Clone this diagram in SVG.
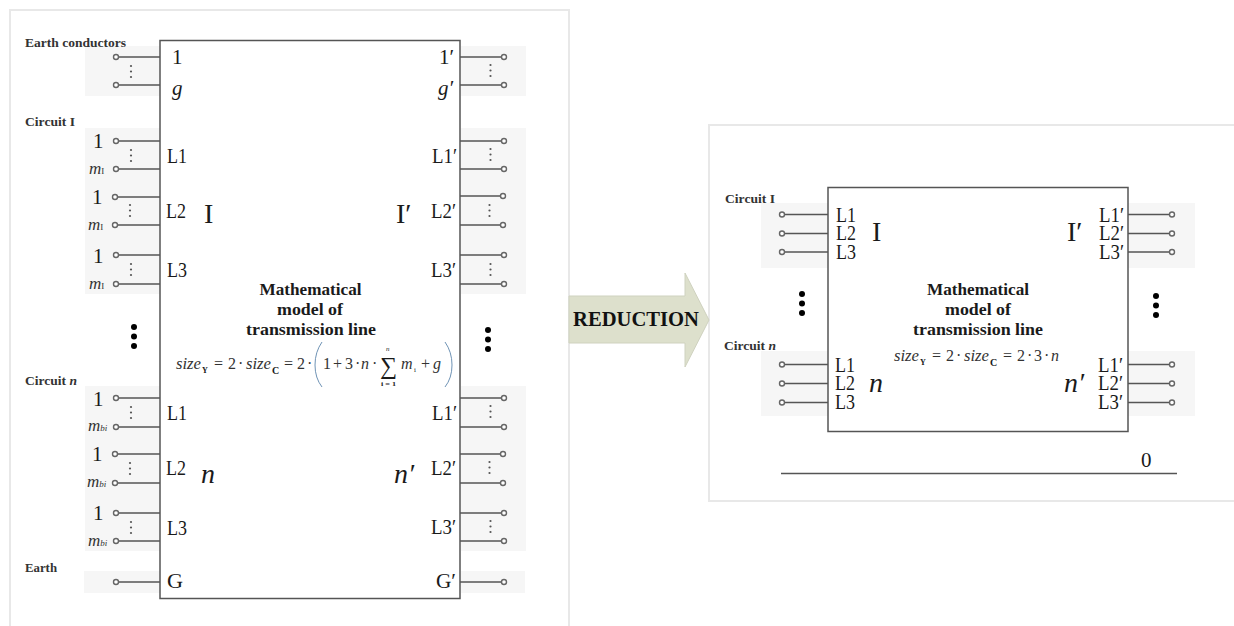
<svg xmlns="http://www.w3.org/2000/svg" width="1234" height="626" viewBox="0 0 1234 626">
<style>
text{font-family:"Liberation Serif","Times New Roman",serif;fill:#1a1a1a}
.h{font-size:13px;font-weight:bold;fill:#333}
.p{font-size:21px}
.s{font-size:21px;font-style:italic}
.m{font-size:17px;font-style:italic;fill:#333}
.t{font-size:16.500px;font-weight:bold}
.f{font-size:16px;fill:#333}
.i{font-style:italic}
.big{font-size:28px}
.band{fill:#f6f6f6;stroke:none}
.panel{fill:#fff;stroke:#e8e8e8;stroke-width:2}
.box{fill:#fff;stroke:#555;stroke-width:1.5}
.w{stroke:#555;stroke-width:1.5;fill:none}
.c{fill:#fff;stroke:#666;stroke-width:1.4}
.d{fill:#555}
.b{fill:#000}
</style>
<defs>
<g id="vd"><circle cx="0" cy="0" r="1.100" class="d"/><circle cx="0" cy="5.500" r="1.100" class="d"/><circle cx="0" cy="11" r="1.100" class="d"/></g>
<g id="bd"><circle cx="0" cy="0" r="3" class="b"/><circle cx="0" cy="9.500" r="3" class="b"/><circle cx="0" cy="19" r="3" class="b"/></g>
</defs>
<rect class="panel" x="10" y="10" width="559" height="630"/>
<rect class="panel" x="709" y="125" width="540" height="376"/>
<g id="bands">
<rect class="band" x="85" y="46" width="75" height="50"/>
<rect class="band" x="85" y="128" width="75" height="166"/>
<rect class="band" x="85" y="386" width="75" height="165"/>
<rect class="band" x="84" y="571" width="76" height="22"/>
<rect class="band" x="461" y="46" width="65" height="50"/>
<rect class="band" x="461" y="128" width="65" height="166"/>
<rect class="band" x="461" y="386" width="65" height="165"/>
<rect class="band" x="461" y="571" width="64" height="22"/>
<rect class="band" x="761" y="203" width="67" height="65"/>
<rect class="band" x="761" y="351" width="67" height="65"/>
<rect class="band" x="1128" y="203" width="67" height="65"/>
<rect class="band" x="1128" y="351" width="67" height="65"/>
</g>
<g id="connectors">
<path class="w" d="M116 57H160M116 85H160M116 141H160M116 169H160M115 197H160M115 225H160M116 255H160M116 284H160M116 398H160M116 427H160M115 454H160M115 483H160M116 513H160M116 541H160M116 582H160"/>
<path class="w" d="M460 57H504M460 85H504M460 141H504M460 169H504M460 196H503M460 225H503M460 255H504M460 284H504M460 398H504M460 427H504M460 454H503M460 483H503M460 513H504M460 541H504M460 582H504"/>
<path class="w" d="M782 214.500H828M782 233.500H828M782 252H828M782 364.500H828M782 383.500H828M782 402.500H828M1128 214.500H1172M1128 233.500H1172M1128 252H1172M1128 364.500H1172M1128 383.500H1172M1128 402.500H1172"/>
<path class="w" d="M781 473.500H1177"/>
<g id="terminals">
<circle class="c" cx="116" cy="57" r="2.500"/><circle class="c" cx="116" cy="85" r="2.500"/><circle class="c" cx="116" cy="141" r="2.500"/><circle class="c" cx="116" cy="169" r="2.500"/><circle class="c" cx="115" cy="197" r="2.500"/><circle class="c" cx="115" cy="225" r="2.500"/><circle class="c" cx="116" cy="255" r="2.500"/><circle class="c" cx="116" cy="284" r="2.500"/><circle class="c" cx="116" cy="398" r="2.500"/><circle class="c" cx="116" cy="427" r="2.500"/><circle class="c" cx="115" cy="454" r="2.500"/><circle class="c" cx="115" cy="483" r="2.500"/><circle class="c" cx="116" cy="513" r="2.500"/><circle class="c" cx="116" cy="541" r="2.500"/><circle class="c" cx="116" cy="582" r="2.500"/>
<circle class="c" cx="504" cy="57" r="2.500"/><circle class="c" cx="504" cy="85" r="2.500"/><circle class="c" cx="504" cy="141" r="2.500"/><circle class="c" cx="504" cy="169" r="2.500"/><circle class="c" cx="503" cy="196" r="2.500"/><circle class="c" cx="503" cy="225" r="2.500"/><circle class="c" cx="504" cy="255" r="2.500"/><circle class="c" cx="504" cy="284" r="2.500"/><circle class="c" cx="504" cy="398" r="2.500"/><circle class="c" cx="504" cy="427" r="2.500"/><circle class="c" cx="503" cy="454" r="2.500"/><circle class="c" cx="503" cy="483" r="2.500"/><circle class="c" cx="504" cy="513" r="2.500"/><circle class="c" cx="504" cy="541" r="2.500"/><circle class="c" cx="504" cy="582" r="2.500"/>
<circle class="c" cx="782" cy="214.500" r="2.500"/><circle class="c" cx="782" cy="233.500" r="2.500"/><circle class="c" cx="782" cy="252" r="2.500"/><circle class="c" cx="782" cy="364.500" r="2.500"/><circle class="c" cx="782" cy="383.500" r="2.500"/><circle class="c" cx="782" cy="402.500" r="2.500"/>
<circle class="c" cx="1172" cy="214.500" r="2.500"/><circle class="c" cx="1172" cy="233.500" r="2.500"/><circle class="c" cx="1172" cy="252" r="2.500"/><circle class="c" cx="1172" cy="364.500" r="2.500"/><circle class="c" cx="1172" cy="383.500" r="2.500"/><circle class="c" cx="1172" cy="402.500" r="2.500"/>
</g>
</g>
<g id="dots">
<use href="#vd" x="131" y="66"/><use href="#vd" x="131" y="150"/><use href="#vd" x="130" y="205"/><use href="#vd" x="131" y="264"/><use href="#vd" x="131" y="407"/><use href="#vd" x="130" y="463"/><use href="#vd" x="131" y="522"/>
<use href="#vd" x="490.500" y="65"/><use href="#vd" x="490.500" y="149"/><use href="#vd" x="489.500" y="205"/><use href="#vd" x="490.500" y="264"/><use href="#vd" x="490.500" y="406"/><use href="#vd" x="489.500" y="462"/><use href="#vd" x="490.500" y="521"/>
<use href="#bd" x="134" y="327"/><use href="#bd" x="488" y="330"/><use href="#bd" x="802" y="294"/><use href="#bd" x="1156" y="296"/>
</g>
<g id="model-full">
<rect class="box" x="160" y="40.500" width="300" height="558"/>
<text class="p" x="172" y="64">1</text><text class="s" x="172" y="95">g</text>
<text class="p" x="167" y="163" textLength="20" lengthAdjust="spacingAndGlyphs">L1</text><text class="p" x="166" y="218" textLength="20" lengthAdjust="spacingAndGlyphs">L2</text><text class="p" x="167" y="277" textLength="20" lengthAdjust="spacingAndGlyphs">L3</text>
<text class="big" x="204" y="223">I</text>
<text class="p" x="167" y="420" textLength="20" lengthAdjust="spacingAndGlyphs">L1</text><text class="p" x="166" y="475" textLength="20" lengthAdjust="spacingAndGlyphs">L2</text><text class="p" x="167" y="535" textLength="20" lengthAdjust="spacingAndGlyphs">L3</text>
<text class="big i" x="201" y="483">n</text>
<text class="p" x="167" y="588" textLength="16" lengthAdjust="spacingAndGlyphs">G</text>
<text class="p" x="439" y="64">1′</text><text class="s" x="438" y="95">g′</text>
<text class="p" x="432" y="163" textLength="25" lengthAdjust="spacingAndGlyphs">L1′</text><text class="p" x="431" y="218" textLength="25" lengthAdjust="spacingAndGlyphs">L2′</text><text class="p" x="431" y="277" textLength="25" lengthAdjust="spacingAndGlyphs">L3′</text>
<text class="big" x="396" y="223">I′</text>
<text class="p" x="432" y="420" textLength="25" lengthAdjust="spacingAndGlyphs">L1′</text><text class="p" x="431" y="475" textLength="25" lengthAdjust="spacingAndGlyphs">L2′</text><text class="p" x="431" y="534" textLength="25" lengthAdjust="spacingAndGlyphs">L3′</text>
<text class="big i" x="394" y="483">n′</text>
<text class="p" x="436" y="588" textLength="20" lengthAdjust="spacingAndGlyphs">G′</text>
<text class="t" x="259.500" y="295" textLength="102" lengthAdjust="spacingAndGlyphs">Mathematical</text>
<text class="t" x="277" y="315" textLength="66" lengthAdjust="spacingAndGlyphs">model of</text>
<text class="t" x="246" y="335" textLength="130" lengthAdjust="spacingAndGlyphs">transmission line</text>
<text class="f i" x="176" y="369" textLength="25" lengthAdjust="spacingAndGlyphs">size</text>
<text x="202" y="373" font-size="8" font-weight="bold">Y</text>
<text class="f" x="214" y="369">=</text><text class="f" x="228" y="369">2</text><text class="f" x="238" y="369">·</text>
<text class="f i" x="246" y="369" textLength="25" lengthAdjust="spacingAndGlyphs">size</text>
<text x="272" y="374" font-size="10" font-weight="bold">C</text>
<text class="f" x="284" y="369">=</text><text class="f" x="297" y="369">2</text><text class="f" x="307" y="369">·</text>
<path d="M322 342Q315 352 315 365Q315 378 322 387" fill="none" stroke="#6f93b5" stroke-width="1"/>
<text class="f" x="323" y="369">1</text><text class="f" x="333" y="369">+</text><text class="f" x="345" y="369">3</text><text class="f" x="355" y="369">·</text>
<text class="f i" x="361" y="369">n</text><text class="f" x="372" y="369">·</text>
<text x="380" y="374" font-size="24" fill="#333">∑</text>
<text x="386" y="351" font-size="7" class="i">n</text>
<text x="381" y="386" font-size="7" font-weight="bold" textLength="15" lengthAdjust="spacingAndGlyphs">i = 1</text>
<text class="f i" x="401" y="369">m</text><text x="414" y="372" font-size="7">i</text>
<text class="f" x="421" y="369">+</text><text class="f i" x="433" y="369">g</text>
<path d="M445 342Q452 352 452 365Q452 378 445 387" fill="none" stroke="#6f93b5" stroke-width="1"/>
</g>
<g id="left-labels">
<text class="h" x="25" y="47" textLength="101" lengthAdjust="spacingAndGlyphs">Earth conductors</text>
<text class="h" x="25" y="126" textLength="50" lengthAdjust="spacingAndGlyphs">Circuit I</text>
<text class="h" x="25" y="385" textLength="52" lengthAdjust="spacingAndGlyphs">Circuit <tspan class="i">n</tspan></text>
<text class="h" x="25" y="572" textLength="32" lengthAdjust="spacingAndGlyphs">Earth</text>
<text class="p" x="93" y="148">1</text><text class="m" x="89" y="174">m<tspan font-size="9" font-style="normal">I</tspan></text>
<text class="p" x="92" y="204">1</text><text class="m" x="88" y="230">m<tspan font-size="9" font-style="normal">I</tspan></text>
<text class="p" x="93" y="263">1</text><text class="m" x="89" y="289">m<tspan font-size="9" font-style="normal">I</tspan></text>
<text class="p" x="93" y="406">1</text><text class="m" x="88" y="431">m<tspan font-size="9">bi</tspan></text>
<text class="p" x="92" y="461">1</text><text class="m" x="87" y="487">m<tspan font-size="9">bi</tspan></text>
<text class="p" x="93" y="520">1</text><text class="m" x="88" y="546">m<tspan font-size="9">bi</tspan></text>
</g>
<g id="reduction-arrow">
<path d="M569 296H685V273L709 320L685 367V343H569Z" fill="#dde0cc" stroke="#cfd2bf" stroke-width="1"/>
<text x="573" y="326" font-size="20" font-weight="bold" textLength="126" lengthAdjust="spacingAndGlyphs" style="fill:#111">REDUCTION</text>
</g>
<g id="model-reduced">
<rect class="box" x="828" y="187.500" width="300" height="244"/>
<text class="p" x="836" y="222" textLength="20" lengthAdjust="spacingAndGlyphs">L1</text><text class="p" x="836" y="240" textLength="20" lengthAdjust="spacingAndGlyphs">L2</text><text class="p" x="836" y="259" textLength="20" lengthAdjust="spacingAndGlyphs">L3</text>
<text class="big" x="872" y="241">I</text>
<text class="p" x="835" y="372" textLength="20" lengthAdjust="spacingAndGlyphs">L1</text><text class="p" x="835" y="390" textLength="20" lengthAdjust="spacingAndGlyphs">L2</text><text class="p" x="835" y="409" textLength="20" lengthAdjust="spacingAndGlyphs">L3</text>
<text class="big i" x="869" y="392">n</text>
<text class="p" x="1099" y="222" textLength="25" lengthAdjust="spacingAndGlyphs">L1′</text><text class="p" x="1099" y="240" textLength="25" lengthAdjust="spacingAndGlyphs">L2′</text><text class="p" x="1099" y="259" textLength="25" lengthAdjust="spacingAndGlyphs">L3′</text>
<text class="big" x="1067" y="241">I′</text>
<text class="p" x="1098" y="372" textLength="25" lengthAdjust="spacingAndGlyphs">L1′</text><text class="p" x="1098" y="390" textLength="25" lengthAdjust="spacingAndGlyphs">L2′</text><text class="p" x="1098" y="409" textLength="25" lengthAdjust="spacingAndGlyphs">L3′</text>
<text class="big i" x="1064" y="392">n′</text>
<text class="t" x="927" y="295" textLength="102" lengthAdjust="spacingAndGlyphs">Mathematical</text>
<text class="t" x="945" y="315" textLength="66" lengthAdjust="spacingAndGlyphs">model of</text>
<text class="t" x="913" y="335" textLength="130" lengthAdjust="spacingAndGlyphs">transmission line</text>
<text class="f i" x="894" y="361" textLength="25" lengthAdjust="spacingAndGlyphs">size</text>
<text x="920" y="365" font-size="8" font-weight="bold">Y</text>
<text class="f" x="932" y="361">=</text><text class="f" x="946" y="361">2</text><text class="f" x="956" y="361">·</text>
<text class="f i" x="964" y="361" textLength="25" lengthAdjust="spacingAndGlyphs">size</text>
<text x="990" y="366" font-size="10" font-weight="bold">C</text>
<text class="f" x="1003" y="361">=</text><text class="f" x="1017" y="361">2</text><text class="f" x="1027" y="361">·</text><text class="f" x="1034" y="361">3</text><text class="f" x="1044" y="361">·</text>
<text class="f i" x="1051" y="361">n</text>
</g>
<g id="right-labels">
<text class="h" x="725" y="203" textLength="50" lengthAdjust="spacingAndGlyphs">Circuit I</text>
<text class="h" x="724" y="350" textLength="52" lengthAdjust="spacingAndGlyphs">Circuit <tspan class="i">n</tspan></text>
<text class="p" x="1141" y="467">0</text>
</g>
</svg>
